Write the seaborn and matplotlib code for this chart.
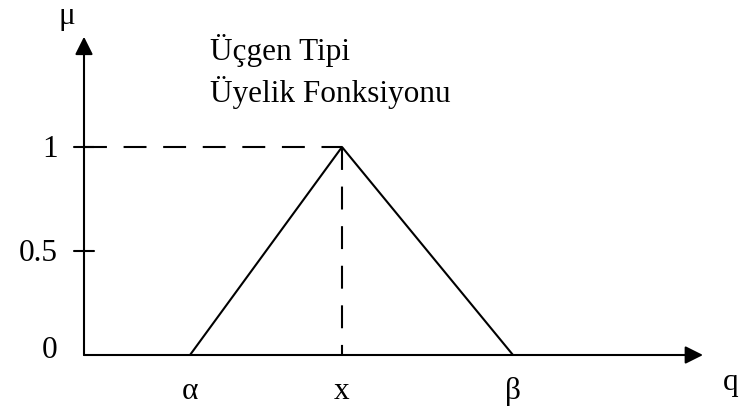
import matplotlib
matplotlib.use("Agg")
import matplotlib.pyplot as plt
import seaborn as sns
import pandas as pd

# Triangular membership function: zero at alpha, peak at x, zero at beta
q_points = [1.06, 2.58, 4.29]
mu_points = [0.0, 1.0, 0.0]
q_labels = ["α", "x", "β"]

mu_ticks = [0.0, 0.5, 1.0]
mu_tick_labels = ["0", "0.5", "1"]

title_lines = ["Üçgen Tipi", "Üyelik Fonksiyonu"]

sns.set_theme(style="white")
plt.rcParams["font.family"] = ["Liberation Serif", "DejaVu Serif"]

fig = plt.figure(figsize=(7.41, 4.08), dpi=100)
ax = fig.add_axes([0, 0, 1, 1])
ax.set_xlim(-0.84, 6.57)
ax.set_ylim(-0.2548, 1.7067)
ax.axis("off")

ink = "black"
lw = 1.5
fs = 22.5

# Coordinate axes with filled arrowheads
arrow = dict(arrowstyle="-|>,head_length=0.6,head_width=0.3", mutation_scale=18,
             lw=lw, color=ink, shrinkA=0, shrinkB=0)
ax.annotate("", xy=(0, 1.53), xytext=(0, 0), arrowprops=arrow)
ax.annotate("", xy=(6.19, 0), xytext=(0, 0), arrowprops=arrow)

# Membership triangle
df = pd.DataFrame({"q": q_points, "mu": mu_points})
sns.lineplot(data=df, x="q", y="mu", ax=ax, color=ink, lw=lw, sort=False,
             estimator=None)

# Dashed guides from the peak to both axes
peak_q, peak_mu = q_points[1], mu_points[1]
dash = (0, (11, 8))
ax.plot([0, peak_q], [peak_mu, peak_mu], color=ink, lw=lw, ls=dash)
ax.plot([peak_q, peak_q], [peak_mu, 0], color=ink, lw=lw, ls=dash)

# Tick marks and labels on the membership axis
for val, lab in zip(mu_ticks, mu_tick_labels):
    if val > 0:
        ax.plot([-0.1, 0.1], [val, val], color=ink, lw=lw)
    ax.annotate(lab, xy=(0, val), xytext=(-19, 3 if val == 0 else -2),
                textcoords="offset points", ha="right", va="center",
                fontsize=fs, color=ink)

# Labels on the q axis
for qv, lab in zip(q_points, q_labels):
    ax.annotate(lab, xy=(qv, 0), xytext=(0, -26), textcoords="offset points",
                ha="center", va="center", fontsize=fs, color=ink)

ax.text(6.47, -0.13, "q", ha="center", va="center", fontsize=fs, color=ink)
ax.text(-0.17, 1.625, "μ", ha="center", va="center", fontsize=fs, color=ink)

ax.text(1.26, 1.418, title_lines[0], ha="left", va="baseline", fontsize=fs, color=ink)
ax.text(1.26, 1.216, title_lines[1], ha="left", va="baseline", fontsize=fs, color=ink)

fig.savefig("out.png", dpi=100)
